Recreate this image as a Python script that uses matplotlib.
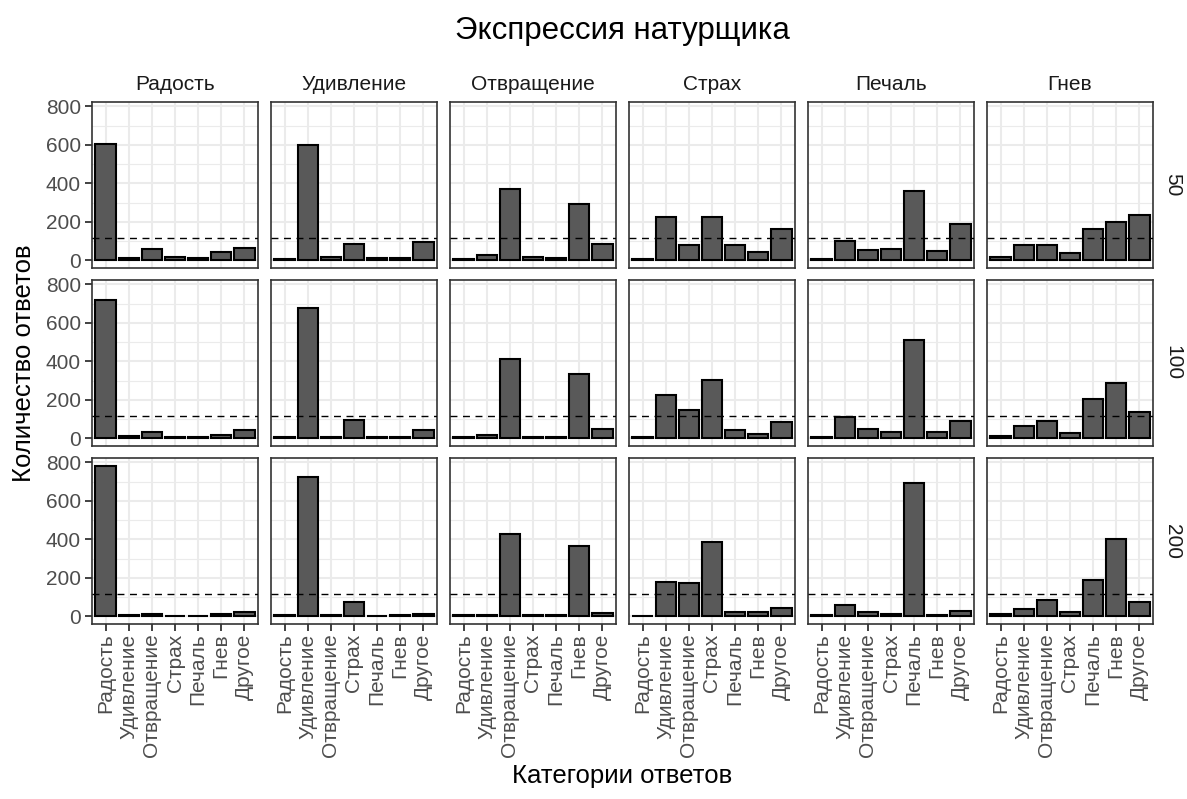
import matplotlib
matplotlib.use("Agg")
import matplotlib.pyplot as plt
import numpy as np

plt.rcParams['font.family'] = ['Liberation Sans', 'DejaVu Sans']

categories = ["Радость", "Удивление", "Отвращение", "Страх", "Печаль", "Гнев", "Другое"]
expressions = ["Радость", "Удивление", "Отвращение", "Страх", "Печаль", "Гнев"]
row_labels = ["50", "100", "200"]

vals_50 = [
    [604, 14, 57, 19, 14, 42, 66],
    [5, 599, 17, 85, 12, 14, 97],
    [7, 30, 372, 17, 14, 292, 87],
    [5, 228, 82, 224, 78, 42, 162],
    [7, 99, 52, 61, 362, 47, 191],
    [17, 78, 82, 40, 165, 202, 235],
]
vals_100 = [
    [720, 14, 31, 10, 9, 17, 44],
    [5, 680, 10, 94, 7, 7, 42],
    [5, 17, 415, 7, 7, 335, 49],
    [7, 228, 146, 303, 44, 23, 84],
    [5, 113, 47, 35, 511, 33, 91],
    [14, 66, 92, 30, 206, 288, 139],
]
vals_200 = [
    [784, 10, 14, 3, 3, 12, 23],
    [10, 725, 9, 75, 3, 7, 12],
    [5, 10, 430, 9, 5, 367, 17],
    [3, 180, 173, 388, 21, 24, 42],
    [5, 59, 21, 12, 694, 10, 30],
    [14, 40, 87, 24, 189, 402, 73],
]
chance_level = 117

rows = [vals_50, vals_100, vals_200]

W, H = 1187, 799
fig = plt.figure(figsize=(W / 100, H / 100), dpi=100)

left0 = 92
pw = 166
gap_x = 13
tops = [102, 280, 458]
ph = 166

TICK_FS = 15
STRIP_FS = 15
AXT_FS = 18.5
TITLE_FS = 22.5

ymax = max(max(max(r) for r in rr) for rr in rows)
ylo, yhi = -0.05 * ymax, ymax * 1.05

x = np.arange(len(categories))
for ri, rdata in enumerate(rows):
    for ci in range(6):
        l = left0 + ci * (pw + gap_x)
        t = tops[ri]
        ax = fig.add_axes([l / W, 1 - (t + ph) / H, pw / W, ph / H])
        ax.set_xlim(-0.6, 6.6)
        ax.set_ylim(ylo, yhi)
        for yv in [100, 300, 500, 700]:
            ax.axhline(yv, color='#ebebeb', lw=0.8, zorder=0)
        for yv in [0, 200, 400, 600, 800]:
            ax.axhline(yv, color='#ebebeb', lw=1.5, zorder=0)
        for xv in x:
            ax.axvline(xv, color='#ebebeb', lw=1.5, zorder=0)
        ax.bar(x, rdata[ci], width=0.9, color='#595959', edgecolor='black', linewidth=1.5, zorder=2)
        ax.axhline(chance_level, color='black', lw=1.0, ls=(0, (5, 4)), zorder=3)
        for s in ax.spines.values():
            s.set_color('#333333')
            s.set_linewidth(1.2)
        ax.set_yticks([0, 200, 400, 600, 800])
        ax.set_xticks(x)
        ax.tick_params(color='#333333', length=5, width=1.3)
        if ci == 0:
            ax.set_yticklabels(["0", "200", "400", "600", "800"], fontsize=TICK_FS, color='#4d4d4d')
            ax.tick_params(axis='y', pad=3)
        else:
            ax.tick_params(axis='y', length=0, labelleft=False)
        if ri == 2:
            ax.set_xticklabels(categories, rotation=90, fontsize=TICK_FS, color='#4d4d4d')
            ax.tick_params(axis='x', pad=2)
        else:
            ax.tick_params(axis='x', length=0, labelbottom=False)
        if ri == 0:
            fig.text((l + pw / 2) / W, 1 - 85 / H, expressions[ci], ha='center', va='center',
                     fontsize=STRIP_FS, color='#1a1a1a')
        if ci == 5:
            fig.text((l + pw + 20) / W, 1 - (t + ph / 2) / H, row_labels[ri], ha='center', va='center',
                     rotation=-90, fontsize=STRIP_FS, color='#1a1a1a')

cx = (left0 + left0 + 6 * pw + 5 * gap_x) / 2
fig.text(cx / W, 1 - 31 / H, "Экспрессия натурщика", ha='center', va='center', fontsize=TITLE_FS)
fig.text(cx / W, 1 - 776 / H, "Категории ответов", ha='center', va='center', fontsize=AXT_FS)
fig.text(24 / W, 1 - (tops[0] + tops[2] + ph) / 2 / H, "Количество ответов", ha='center', va='center',
         rotation=90, fontsize=AXT_FS)

fig.savefig("out.png", dpi=100, facecolor='white')
